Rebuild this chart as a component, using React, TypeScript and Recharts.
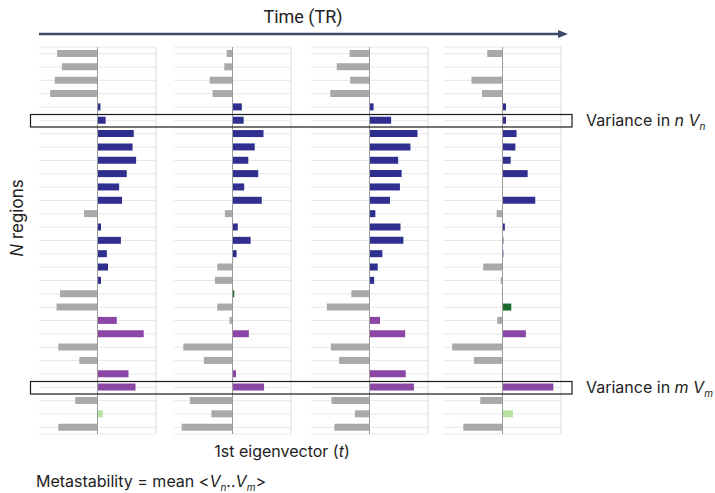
import React from 'react';
import { BarChart, Bar, XAxis, YAxis, CartesianGrid, ReferenceLine, Cell } from 'recharts';

const regions = [
  'R1', 'R2', 'R3', 'R4', 'R5', 'R6', 'R7', 'R8', 'R9', 'R10',
  'R11', 'R12', 'R13', 'R14', 'R15', 'R16', 'R17', 'R18', 'R19', 'R20',
  'R21', 'R22', 'R23', 'R24', 'R25', 'R26', 'R27', 'R28', 'R29',
];

const panel1Values = [-0.69, -0.61, -0.73, -0.81, 0.05, 0.14, 0.62, 0.6, 0.66, 0.5, 0.37, 0.42, -0.23, 0.06, 0.4, 0.16, 0.18, 0.06, -0.64, -0.7, 0.33, 0.79, -0.67, -0.31, 0.53, 0.65, -0.38, 0.09, -0.67];
const panel1Groups = 'ggggbbbbbbbbgbbbbbggppggppglg'.split('');

const panel2Values = [-0.1, -0.14, -0.39, -0.34, 0.16, 0.19, 0.53, 0.38, 0.27, 0.44, 0.2, 0.5, -0.13, 0.09, 0.31, 0.07, -0.26, -0.3, 0.03, -0.26, -0.05, 0.28, -0.84, -0.49, 0.06, 0.54, -0.73, -0.36, -0.87];
const panel2Groups = 'ggggbbbbbbbbgbbbggdggpggppggg'.split('');

const panel3Values = [-0.34, -0.56, -0.33, -0.67, 0.07, 0.37, 0.82, 0.7, 0.49, 0.55, 0.52, 0.35, 0.1, 0.53, 0.58, 0.22, 0.14, 0.08, -0.31, -0.73, 0.18, 0.61, -0.66, -0.52, 0.62, 0.76, -0.65, -0.25, -0.6];
const panel3Groups = 'ggggbbbbbbbbbbbbbbggppggppggg'.split('');

const panel4Values = [-0.26, 0, -0.53, -0.35, 0.06, 0.06, 0.24, 0.22, 0.14, 0.43, 0, 0.56, -0.1, 0.04, 0.015, 0.015, -0.33, -0.03, -0.01, 0.15, -0.09, 0.4, -0.86, -0.49, -0.01, 0.87, -0.38, 0.18, -0.67];
const panel4Groups = 'ggggbbbbbbbbgbbbgggdgpgggpglg'.split('');

const groupColors: Record<string, string> = {
  g: '#a9a9a9',
  b: '#2e2f8e',
  p: '#8c47a6',
  d: '#1c6b2c',
  l: '#b8e3a0',
};

const FONT = 'Inter, "Noto Sans", sans-serif';

function Panel({ values, groups, left }: { values: number[]; groups: string[]; left: number }) {
  const data = regions.map((r, i) => ({ region: r, v: values[i], g: groups[i] }));
  return (
    <div style={{ position: 'absolute', left: left - 2, top: 40 }}>
      <BarChart
        width={121}
        height={401}
        data={data}
        layout="vertical"
        margin={{ top: 7, right: 2, bottom: 7, left: 2 }}
        barSize={7}
      >
        <CartesianGrid horizontal vertical={false} stroke="#e8e8e8" />
        <XAxis type="number" domain={[-1, 1]} hide />
        <YAxis
          type="category"
          dataKey="region"
          mirror
          width={0}
          interval={0}
          tickSize={16}
          tickLine={{ stroke: '#8c8c8c' }}
          axisLine={{ stroke: '#8c8c8c' }}
          tick={() => <g />}
        />
        <ReferenceLine x={1} stroke="#dcdcdc" />
        <Bar dataKey="v" isAnimationActive={false}>
          {data.map((d, i) => (
            <Cell key={i} fill={groupColors[d.g]} />
          ))}
        </Bar>
        <ReferenceLine x={0} stroke="#9a9a9a" />
      </BarChart>
    </div>
  );
}

export default function App() {
  return (
    <div style={{ position: 'absolute', left: 0, top: 0, width: 715, height: 493, background: '#fff', overflow: 'hidden' }}>
      <Panel values={panel1Values} groups={panel1Groups} left={39} />
      <Panel values={panel2Values} groups={panel2Groups} left={174} />
      <Panel values={panel3Values} groups={panel3Groups} left={311} />
      <Panel values={panel4Values} groups={panel4Groups} left={444} />
      <svg width={715} height={493} style={{ position: 'absolute', left: 0, top: 0, pointerEvents: 'none' }}>
        <text x={303} y={23} textAnchor="middle" fontFamily='Roboto, sans-serif' fontSize={18} fill="#222">Time (TR)</text>
        <line x1={39} y1={34} x2={560} y2={34} stroke="#3b4a68" strokeWidth={2.5} />
        <polygon points="568,34 558,30 558,38" fill="#3b4a68" />
        <rect x={30.5} y={114.5} width={541.5} height={12.5} fill="none" stroke="#1a1a1a" strokeWidth={1.2} />
        <rect x={30.5} y={381.5} width={541.5} height={12.5} fill="none" stroke="#1a1a1a" strokeWidth={1.2} />
        <text x={586} y={126} fontFamily={FONT} fontSize={16} fill="#222">
          Variance in <tspan fontStyle="italic">n</tspan> <tspan fontStyle="italic">V</tspan>
          <tspan fontStyle="italic" fontSize={10} dy={4}>n</tspan>
        </text>
        <text x={586} y={393} fontFamily={FONT} fontSize={16} fill="#222">
          Variance in <tspan fontStyle="italic">m</tspan> <tspan fontStyle="italic">V</tspan>
          <tspan fontStyle="italic" fontSize={10} dy={4}>m</tspan>
        </text>
        <text x={0} y={0} transform="translate(23,218) rotate(-90)" textAnchor="middle" fontFamily={FONT} fontSize={17} fill="#222">
          <tspan fontStyle="italic">N</tspan> regions
        </text>
        <text x={282} y={457} textAnchor="middle" fontFamily={FONT} fontSize={16} fill="#222">
          1st eigenvector (<tspan fontStyle="italic">t</tspan>)
        </text>
        <text x={36} y={487} fontFamily={FONT} fontSize={16} fill="#222">
          Metastability = mean &lt;<tspan fontStyle="italic">V</tspan>
          <tspan fontStyle="italic" fontSize={10} dy={4}>n</tspan>
          <tspan dy={-4}>..</tspan>
          <tspan fontStyle="italic">V</tspan>
          <tspan fontStyle="italic" fontSize={10} dy={4}>m</tspan>
          <tspan dy={-4}>&gt;</tspan>
        </text>
      </svg>
    </div>
  );
}
